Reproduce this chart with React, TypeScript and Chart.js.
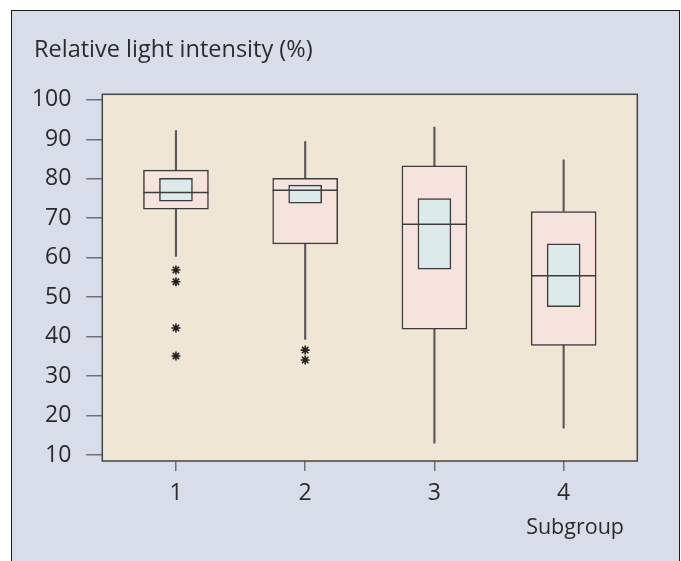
import React, { useEffect, useRef } from 'react';
import { Chart, registerables } from 'chart.js';

Chart.register(...registerables);

// ---- data ----
const groups = [1, 2, 3, 4];
const whiskerLow = [60.3, 39.3, 13.0, 16.8];
const q1 = [72.3, 63.5, 41.9, 37.8];
const ciLow = [74.3, 73.8, 57.1, 47.6];
const median = [76.5, 77.1, 68.5, 55.4];
const ciHigh = [80.1, 78.4, 75.0, 63.5];
const q3 = [82.2, 80.1, 83.3, 71.7];
const whiskerHigh = [92.2, 89.4, 93.1, 84.8];
const outlierGroup = [1, 1, 1, 1, 2, 2];
const outlierValue = [56.9, 53.9, 42.2, 35.1, 36.6, 34.1];
const xTicks = [1, 2, 3, 4];
const yTicks = [10, 20, 30, 40, 50, 60, 70, 80, 90, 100];
const titleText = 'Relative light intensity (%)';
const xAxisText = 'Subgroup';

const FONT = "'Open Sans', 'Noto Sans', sans-serif";
const TEXT = '#2b2b2b';
const LINE = '#3c3c3c';

const framePlugin = {
  id: 'frame',
  beforeDraw(chart: any) {
    const { ctx, chartArea } = chart;
    const { left, top, right, bottom } = chartArea;
    ctx.save();
    ctx.fillStyle = '#f0e6d6';
    ctx.fillRect(left, top, right - left, bottom - top);
    ctx.restore();
  },
  afterDraw(chart: any) {
    const { ctx, chartArea } = chart;
    const { left, top, right, bottom } = chartArea;
    ctx.save();
    ctx.strokeStyle = '#444';
    ctx.lineWidth = 1.5;
    ctx.strokeRect(left, top, right - left, bottom - top);
    ctx.fillStyle = TEXT;
    ctx.font = `21.5px ${FONT}`;
    ctx.textAlign = 'right';
    ctx.textBaseline = 'alphabetic';
    ctx.fillText(xAxisText, 624, 534);
    ctx.restore();
  },
};

export default function App() {
  const ref = useRef<HTMLCanvasElement>(null);

  useEffect(() => {
    if (!ref.current) return;
    const barBase = {
      type: 'bar' as const,
      grouped: false,
      borderSkipped: false,
    };
    const chart = new Chart(ref.current, {
      type: 'bar',
      data: {
        datasets: [
          {
            ...barBase,
            label: 'lower whisker',
            data: groups.map((g, i) => ({ x: g, y: [whiskerLow[i], q1[i]] })),
            barThickness: 1.5,
            backgroundColor: '#5a5a5a',
            borderWidth: 0,
            order: 6,
          },
          {
            ...barBase,
            label: 'upper whisker',
            data: groups.map((g, i) => ({ x: g, y: [q3[i], whiskerHigh[i]] })),
            barThickness: 1.5,
            backgroundColor: '#5a5a5a',
            borderWidth: 0,
            order: 5,
          },
          {
            ...barBase,
            label: 'IQR',
            data: groups.map((g, i) => ({ x: g, y: [q1[i], q3[i]] })),
            barThickness: 65,
            backgroundColor: '#f7e3dd',
            borderColor: LINE,
            borderWidth: 1.5,
            order: 4,
          },
          {
            ...barBase,
            label: 'CI',
            data: groups.map((g, i) => ({ x: g, y: [ciLow[i], ciHigh[i]] })),
            barThickness: 33,
            backgroundColor: '#dceaea',
            borderColor: LINE,
            borderWidth: 1.5,
            order: 3,
          },
          {
            type: 'scatter' as const,
            label: 'median',
            data: groups.map((g, i) => ({ x: g, y: median[i] })),
            pointStyle: 'line',
            pointRadius: 32.5,
            pointHoverRadius: 32.5,
            borderColor: LINE,
            backgroundColor: LINE,
            borderWidth: 1.5,
            showLine: false,
            order: 2,
          } as any,
          {
            type: 'scatter' as const,
            label: 'outliers',
            data: outlierGroup.map((g, i) => ({ x: g, y: outlierValue[i] })),
            pointStyle: 'star',
            pointRadius: 4.5,
            pointHoverRadius: 4.5,
            borderColor: '#222',
            backgroundColor: '#222',
            borderWidth: 1.6,
            showLine: false,
            order: 1,
          } as any,
        ] as any,
      },
      plugins: [framePlugin],
      options: {
        animation: false,
        responsive: false,
        events: [],
        layout: {
          padding: { left: 34, top: 36.5, right: 43.7, bottom: 0 },
        },
        plugins: {
          legend: { display: false },
          tooltip: { enabled: false },
          title: {
            display: true,
            text: titleText,
            align: 'start',
            color: TEXT,
            font: { family: FONT, size: 23.5, weight: 'normal', lineHeight: 1.2 },
            padding: { top: 0, bottom: 29.6 },
          },
        },
        scales: {
          x: {
            type: 'linear',
            min: 0.43,
            max: 4.57,
            offset: false,
            afterBuildTicks: (axis: any) => {
              axis.ticks = xTicks.map((v) => ({ value: v }));
            },
            afterFit: (axis: any) => {
              axis.height = 100;
            },
            grid: {
              display: true,
              drawOnChartArea: false,
              drawTicks: true,
              tickLength: 10,
              color: '#707070',
              lineWidth: 1.5,
              offset: false,
            },
            border: { display: false },
            ticks: {
              color: TEXT,
              padding: 8.5,
              maxRotation: 0,
              font: { family: FONT, size: 23 },
            },
          },
          y: {
            type: 'linear',
            min: 8.5,
            max: 101.4,
            afterBuildTicks: (axis: any) => {
              axis.ticks = yTicks.map((v) => ({ value: v }));
            },
            afterFit: (axis: any) => {
              axis.width = 68.3;
            },
            grid: {
              display: true,
              drawOnChartArea: false,
              drawTicks: true,
              tickLength: 16,
              color: '#707070',
              lineWidth: 1.5,
            },
            border: { display: false },
            ticks: {
              color: TEXT,
              padding: 15,
              font: { family: FONT, size: 23 },
            },
          },
        },
      } as any,
    });
    return () => chart.destroy();
  }, []);

  return (
    <div style={{ position: 'absolute', left: 0, top: 0, width: 681, height: 561, background: '#fff', overflow: 'hidden' }}>
      <div
        style={{
          position: 'absolute',
          left: 11,
          top: 10,
          width: 669,
          height: 600,
          boxSizing: 'border-box',
          background: '#d8dee9',
          border: '1px solid #1c1c1c',
        }}
      />
      <canvas
        ref={ref}
        width={681}
        height={561}
        style={{ position: 'absolute', left: 0, top: 0, width: 681, height: 561, display: 'block' }}
      />
    </div>
  );
}
